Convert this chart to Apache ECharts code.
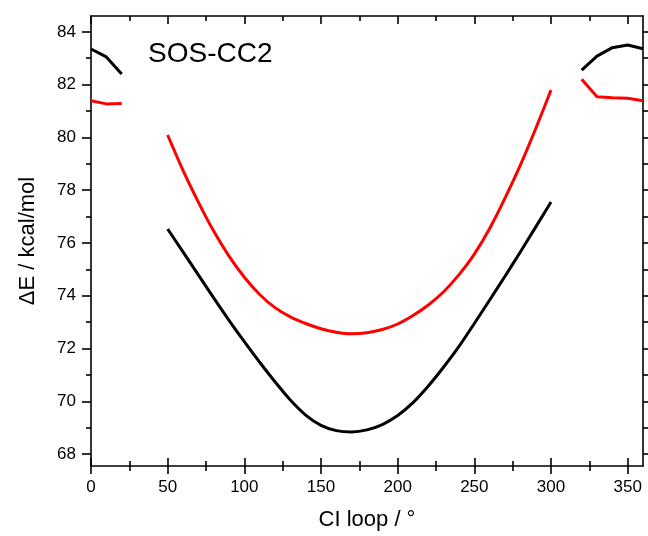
<!DOCTYPE html>
<html>
<head>
<meta charset="utf-8">
<script src="https://cdn.jsdelivr.net/npm/echarts@6/dist/echarts.min.js"></script>
<style>html,body{margin:0;padding:0;background:#fff}#c{width:648px;height:536px}</style>
</head>
<body>
<div id="c"></div>
<script>
const angles = [0,10,20,30,40,50,60,70,80,90,100,110,120,130,140,150,160,170,180,190,200,210,220,230,240,250,260,270,280,290,300,310,320,330,340,350,360];
const blackValues = [83.35,83.05,82.40,null,null,76.53,75.66,74.79,73.92,73.07,72.26,71.48,70.74,70.05,69.48,69.09,68.89,68.84,68.92,69.12,69.46,69.95,70.58,71.30,72.08,72.95,73.84,74.74,75.66,76.60,77.55,null,82.55,83.08,83.40,83.50,83.36];
const redValues = [81.39,81.27,81.28,null,null,80.09,78.75,77.55,76.45,75.50,74.70,74.05,73.55,73.20,72.95,72.75,72.62,72.56,72.60,72.72,72.93,73.25,73.65,74.15,74.80,75.58,76.55,77.70,78.95,80.33,81.79,null,82.20,81.54,81.50,81.48,81.39];
const xMajorTicks = [0,50,100,150,200,250,300,350];
const xMinorTicks = [25,75,125,175,225,275,325];
const yMajorTicks = [68,70,72,74,76,78,80,82,84];
const yMinorTicks = [69,71,73,75,77,79,81,83];
const yAllTicks = [68,69,70,71,72,73,74,75,76,77,78,79,80,81,82,83,84];
const titleText = 'SOS-CC2';
const xName = 'CI loop / °';
const yName = 'ΔE / kcal/mol';

const FONT = '"Liberation Sans", Arial, sans-serif';
const X_MIN = 0, X_MAX = 360, Y_MIN = 67.55, Y_MAX = 84.6;
const lineStyle = {color:'#000', width:1.6};

function xAx(opts){
  return Object.assign({
    type:'value', min:X_MIN, max:X_MAX, position:'bottom',
    axisLine:{show:false, lineStyle}, splitLine:{show:false},
    axisLabel:{show:false}, axisTick:{show:false}
  }, opts);
}
function yAx(opts){
  return Object.assign({
    type:'value', min:Y_MIN, max:Y_MAX, position:'left',
    axisLine:{show:false, lineStyle}, splitLine:{show:false},
    axisLabel:{show:false}, axisTick:{show:false}
  }, opts);
}
// split each curve into its continuous runs (gaps are null values)
function segments(vals){
  const segs = []; let cur = [];
  angles.forEach((a,i)=>{
    if (vals[i] == null) { if (cur.length) segs.push(cur); cur = []; }
    else cur.push([a, vals[i]]);
  });
  if (cur.length) segs.push(cur);
  return segs;
}
function makeSeries(vals, color, z){
  return segments(vals).map(seg => ({
    type:'line', xAxisIndex:0, yAxisIndex:0, data:seg, showSymbol:false,
    smooth: seg.length > 8 ? 0.3 : false,
    lineStyle:{color, width:3}, itemStyle:{color}, z
  }));
}

const chart = echarts.init(document.getElementById('c'), null, {renderer:'canvas'});
chart.setOption({
  animation:false,
  backgroundColor:'#fff',
  title:{text:titleText, left:143, top:35, textStyle:{fontFamily:FONT, fontSize:28, fontWeight:'normal', color:'#000'}},
  grid:{left:91, right:5, top:16, bottom:69, containLabel:false},
  xAxis:[
    xAx({axisLine:{show:true, onZero:false, lineStyle},
      name:xName, nameLocation:'middle', nameGap:43,
      nameTextStyle:{fontFamily:FONT, fontSize:22, color:'#000'},
      axisLabel:{show:true, customValues:xMajorTicks, margin:13, fontFamily:FONT, fontSize:17, color:'#000'},
      axisTick:{show:true, customValues:xMajorTicks, inside:false, length:8, lineStyle}}),
    xAx({axisTick:{show:true, customValues:xMajorTicks, inside:true, length:8, lineStyle}}),
    xAx({axisTick:{show:true, customValues:xMinorTicks, inside:false, length:5, lineStyle}}),
    xAx({axisTick:{show:true, customValues:xMinorTicks, inside:true, length:5, lineStyle}}),
    xAx({position:'top', axisLine:{show:true, onZero:false, lineStyle},
      axisTick:{show:true, customValues:xMajorTicks, inside:true, length:8, lineStyle}}),
    xAx({position:'top', axisTick:{show:true, customValues:xMinorTicks, inside:true, length:5, lineStyle}})
  ],
  yAxis:[
    yAx({axisLine:{show:true, onZero:false, lineStyle},
      name:yName, nameLocation:'middle', nameGap:52,
      nameTextStyle:{fontFamily:FONT, fontSize:22, color:'#000'},
      axisLabel:{show:true, customValues:yMajorTicks, margin:15, fontFamily:FONT, fontSize:17, color:'#000'},
      axisTick:{show:true, customValues:yMajorTicks, inside:false, length:9, lineStyle}}),
    yAx({axisTick:{show:true, customValues:yMinorTicks, inside:false, length:5, lineStyle}}),
    yAx({position:'right', axisLine:{show:true, onZero:false, lineStyle},
      axisTick:{show:true, customValues:yAllTicks, inside:false, length:6, lineStyle}})
  ],
  series:[].concat(makeSeries(blackValues, '#000000', 3), makeSeries(redValues, '#ff0000', 4))
});
</script>
</body>
</html>
